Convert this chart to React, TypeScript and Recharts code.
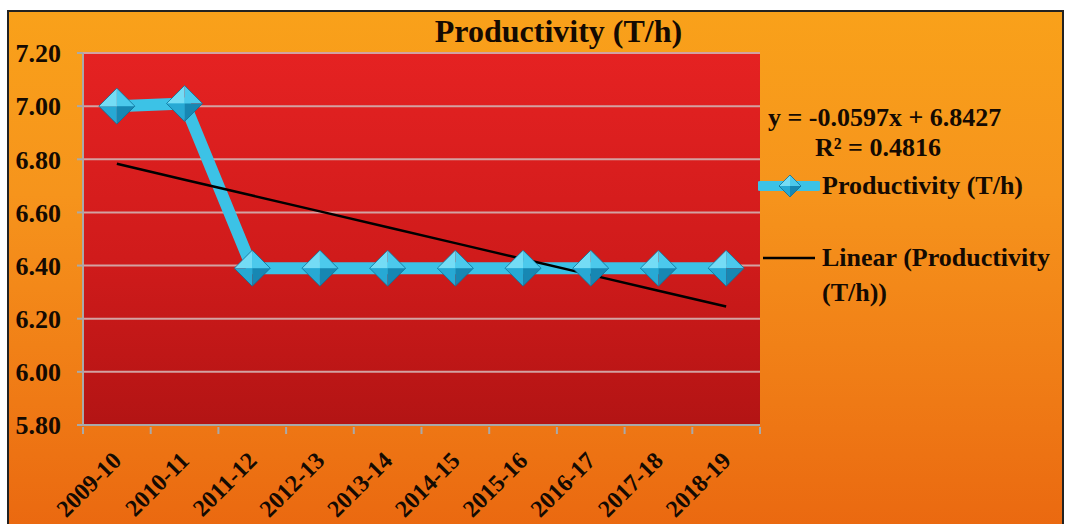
import React from 'react';
import { LineChart, Line, XAxis, YAxis, CartesianGrid, Legend } from 'recharts';

// Seasons on the category axis
const seasons = [
  '2009-10', '2010-11', '2011-12', '2012-13', '2013-14',
  '2014-15', '2015-16', '2016-17', '2017-18', '2018-19',
];

// Productivity in tonnes per hour
const productivity = [7.0, 7.01, 6.39, 6.39, 6.39, 6.39, 6.39, 6.39, 6.39, 6.39];

// Linear trend fitted over the series (x = 1..n)
const trendSlope = -0.0597;
const trendIntercept = 6.8427;
const trendR2 = 0.4816;

const yTicks = [5.8, 6.0, 6.2, 6.4, 6.6, 6.8, 7.0, 7.2];

const data = seasons.map((season, i) => ({
  season,
  productivity: productivity[i],
  trend: trendIntercept + trendSlope * (i + 1),
}));

const FONT = '"Liberation Serif", "Times New Roman", serif';
const INK = '#140a02';
const CYAN = '#3cc2e6';

const W = 1067;
const H = 524;

function Diamond({ cx, cy, r = 17 }: { cx: number; cy: number; r?: number }) {
  return (
    <g>
      <polygon points={`${cx},${cy - r} ${cx - r},${cy} ${cx},${cy}`} fill="#74dcf5" />
      <polygon points={`${cx},${cy - r} ${cx + r},${cy} ${cx},${cy}`} fill="#4cc9ec" />
      <polygon points={`${cx - r},${cy} ${cx},${cy + r} ${cx},${cy}`} fill="#27a9d4" />
      <polygon points={`${cx + r},${cy} ${cx},${cy + r} ${cx},${cy}`} fill="#1787b3" />
      <polygon
        points={`${cx},${cy - r} ${cx + r},${cy} ${cx},${cy + r} ${cx - r},${cy}`}
        fill="none"
        stroke="#0f6f96"
        strokeWidth={0.8}
      />
    </g>
  );
}

const renderDot = (props: any) => {
  const { cx, cy, index } = props;
  if (cx == null || cy == null) return <g key={`d-${index}`} />;
  return <Diamond key={`d-${index}`} cx={cx} cy={cy} r={18} />;
};

const XTick = (props: any) => {
  const { x, y, payload, index } = props;
  const half = payload && payload.offset ? payload.offset : 33.85;
  return (
    <g>
      {index === 0 && (
        <line x1={x - half} x2={x - half} y1={y} y2={y + 7} stroke="#a9a9a9" strokeWidth={2} />
      )}
      <line x1={x + half} x2={x + half} y1={y} y2={y + 7} stroke="#a9a9a9" strokeWidth={2} />
      <text
        x={x + 6}
        y={y + 35}
        transform={`rotate(-45 ${x + 6} ${y + 35})`}
        textAnchor="end"
        fontFamily={FONT}
        fontWeight="bold"
        fontSize={24}
        fill={INK}
      >
        {payload.value}
      </text>
    </g>
  );
};

const LegendContent = (props: any) => {
  const payload = props.payload || [];
  const textStyle: React.CSSProperties = {
    position: 'absolute',
    fontFamily: FONT,
    fontWeight: 'bold',
    fontSize: 26,
    color: INK,
    whiteSpace: 'nowrap',
  };
  const series = payload.find((p: any) => p.dataKey === 'productivity');
  const trend = payload.find((p: any) => p.dataKey === 'trend');
  const trendName: string = trend ? String(trend.value) : '';
  const cut = trendName.lastIndexOf(' ');
  return (
    <div style={{ position: 'relative', width: 305, height: 230 }}>
      <div style={{ ...textStyle, left: 10, top: 3, lineHeight: '30px' }}>
        {`y = ${trendSlope.toFixed(4)}x + ${trendIntercept.toFixed(4)}`}
      </div>
      <div style={{ ...textStyle, left: 57, top: 33, lineHeight: '30px' }}>
        {`R² = ${trendR2.toFixed(4)}`}
      </div>
      {series && (
        <>
          <svg style={{ position: 'absolute', left: 0, top: 71 }} width={62} height={30}>
            <line x1={2} x2={60} y1={15} y2={15} stroke={CYAN} strokeWidth={10} strokeLinecap="round" />
            <Diamond cx={32} cy={15} r={11} />
          </svg>
          <div style={{ ...textStyle, left: 64, top: 71, lineHeight: '30px' }}>{series.value}</div>
        </>
      )}
      {trend && (
        <>
          <svg style={{ position: 'absolute', left: 0, top: 143 }} width={62} height={30}>
            <line x1={5} x2={57} y1={15} y2={15} stroke="#000" strokeWidth={2.5} />
          </svg>
          <div style={{ ...textStyle, left: 64, top: 140, lineHeight: '35px' }}>
            {trendName.slice(0, cut)}
            <br />
            {trendName.slice(cut + 1)}
          </div>
        </>
      )}
    </div>
  );
};

export default function App() {
  return (
    <div style={{ position: 'absolute', left: 0, top: 0, width: W, height: H, background: '#fff', overflow: 'hidden' }}>
      <div
        style={{
          position: 'absolute',
          left: 7,
          top: 10,
          width: 1053,
          height: 520,
          border: '2px solid #222',
          background: 'linear-gradient(180deg, #f9a11a 0%, #f6941c 35%, #f07d16 70%, #ea6810 100%)',
        }}
      />
      <div
        style={{
          position: 'absolute',
          left: 0,
          top: 14,
          width: W,
          textAlign: 'center',
          paddingLeft: 50,
          boxSizing: 'border-box',
          fontFamily: FONT,
          fontWeight: 'bold',
          fontSize: 32,
          lineHeight: '34px',
          color: INK,
        }}
      >
        Productivity (T/h)
      </div>
      <div style={{ position: 'absolute', left: 0, top: 0 }}>
        <LineChart
          width={W}
          height={H}
          data={data}
          margin={{ top: 53, right: 307, bottom: 9, left: 13 }}
        >
          <defs>
            <linearGradient id="plotFill" x1="0" y1="0" x2="0" y2="1">
              <stop offset="0%" stopColor="#e52222" />
              <stop offset="55%" stopColor="#d01b1b" />
              <stop offset="100%" stopColor="#b31414" />
            </linearGradient>
          </defs>
          <CartesianGrid
            vertical={false}
            fill="url(#plotFill)"
            fillOpacity={1}
            stroke="#d3a2a2"
            strokeWidth={2}
          />
          <XAxis
            dataKey="season"
            scale="band"
            interval={0}
            height={90}
            tickSize={0}
            tickLine={false}
            axisLine={{ stroke: '#a9a9a9', strokeWidth: 2 }}
            tick={<XTick />}
          />
          <YAxis
            width={70}
            domain={[5.8, 7.2]}
            ticks={yTicks}
            interval={0}
            tickFormatter={(v: number) => v.toFixed(2)}
            axisLine={{ stroke: '#a9a9a9', strokeWidth: 2 }}
            tickLine={{ stroke: '#a9a9a9', strokeWidth: 2 }}
            tickSize={6}
            tickMargin={16}
            tick={{ fontFamily: FONT, fontWeight: 'bold', fontSize: 26, fill: INK }}
          />
          <Legend
            layout="horizontal"
            align="center"
            verticalAlign="middle"
            wrapperStyle={{ left: 758, top: 100, width: 305, height: 230 }}
            content={<LegendContent />}
          />
          <Line
            dataKey="productivity"
            name="Productivity (T/h)"
            stroke={CYAN}
            strokeWidth={12}
            strokeLinejoin="round"
            dot={renderDot}
            activeDot={false}
            isAnimationActive={false}
          />
          <Line
            dataKey="trend"
            name="Linear (Productivity (T/h))"
            stroke="#000"
            strokeWidth={2.5}
            dot={false}
            activeDot={false}
            isAnimationActive={false}
          />
        </LineChart>
      </div>
    </div>
  );
}
